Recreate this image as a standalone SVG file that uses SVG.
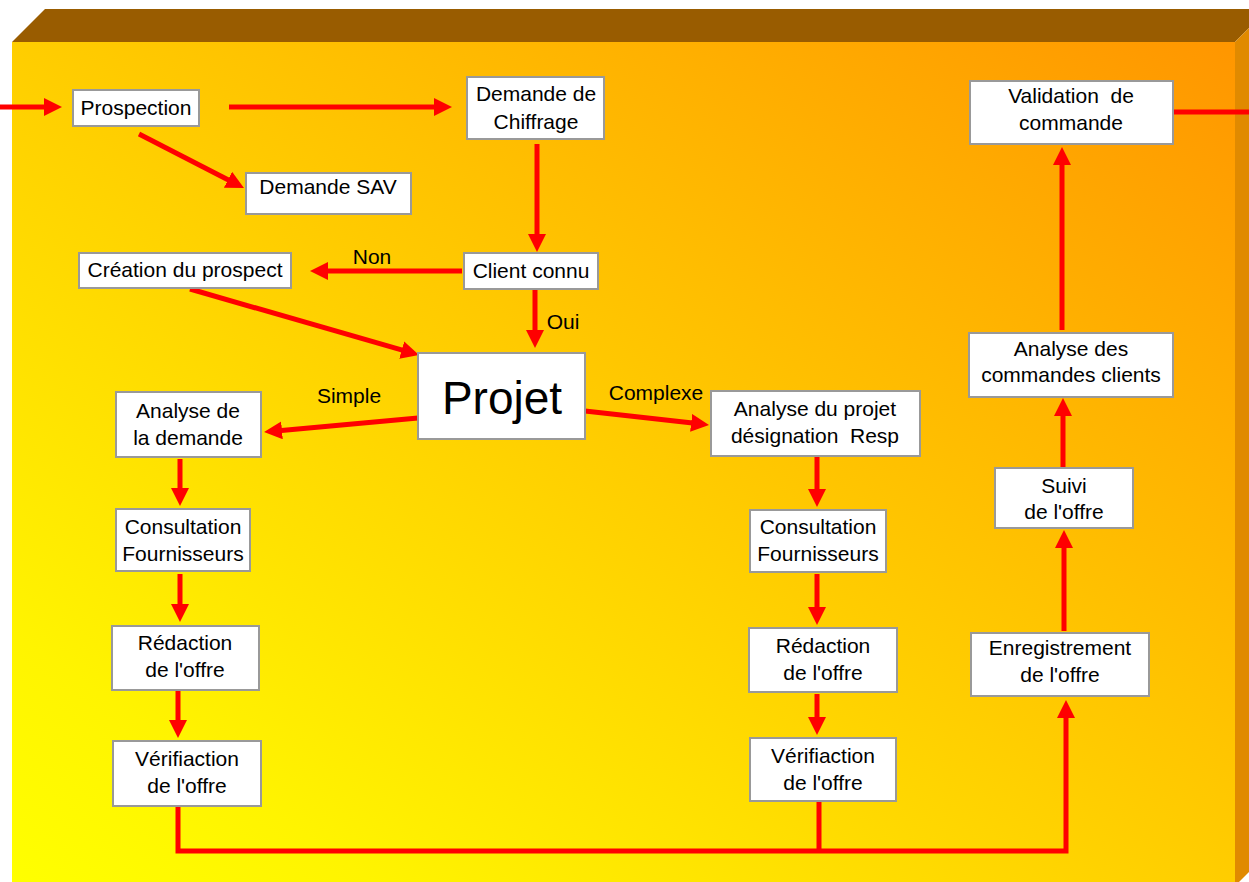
<svg xmlns="http://www.w3.org/2000/svg" width="1249" height="882" viewBox="0 0 1249 882">
<defs>
<linearGradient id="bg" x1="0" y1="1" x2="1" y2="0">
<stop offset="0" stop-color="#FFFF00"/>
<stop offset="0.15" stop-color="#FFF400"/>
<stop offset="1" stop-color="#FF9600"/>
</linearGradient>
<marker id="ah" markerUnits="userSpaceOnUse" markerWidth="18" markerHeight="18" viewBox="0 0 18 18" refX="6" refY="9" orient="auto">
<path d="M0,0 L18,9 L0,18 z" fill="#FF0000"/>
</marker>
</defs>
<style>
.box{fill:#FFFFFF;stroke:#999999;stroke-width:2}
.t{font-family:"Liberation Sans",Arial,sans-serif;font-size:21px;fill:#000;text-anchor:middle}
.lbl{font-family:"Liberation Sans",Arial,sans-serif;font-size:21px;fill:#000;text-anchor:middle}
.c{fill:none;stroke:#FF0000;stroke-width:5}
.a{marker-end:url(#ah)}
</style>
<g id="background">
<rect x="0" y="0" width="1249" height="882" fill="#FFFFFF"/>
<polygon points="12,42 45,9 1268,9 1235,42" fill="#995C00"/>
<polygon points="1235,42 1268,9 1268,853 1235,886" fill="#E08A00"/>
<rect x="12" y="42" width="1223" height="844" fill="url(#bg)"/>
</g>
<g id="connectors">
<line class="c a" x1="0" y1="107" x2="50" y2="107"/>
<line class="c a" x1="229" y1="107" x2="440" y2="107"/>
<line class="c a" x1="139" y1="134" x2="233.3" y2="182.5"/>
<line class="c a" x1="537" y1="144" x2="537" y2="240"/>
<line class="c a" x1="462" y1="271" x2="322" y2="271"/>
<line class="c a" x1="535" y1="289" x2="535" y2="336"/>
<line class="c a" x1="190" y1="289" x2="407.5" y2="351.7"/>
<line class="c a" x1="418" y1="418" x2="276" y2="430.9"/>
<line class="c a" x1="585" y1="411" x2="697.1" y2="423.6"/>
<line class="c a" x1="180" y1="459" x2="180" y2="494"/>
<line class="c a" x1="180" y1="574" x2="180" y2="610"/>
<line class="c a" x1="178" y1="691" x2="178" y2="726"/>
<line class="c a" x1="817" y1="457" x2="817" y2="495"/>
<line class="c a" x1="817" y1="574" x2="817" y2="613"/>
<line class="c a" x1="817" y1="694" x2="817" y2="723"/>
<polyline class="c a" points="178,806 178,851 1066,851 1066,712"/>
<line class="c" x1="819" y1="801" x2="819" y2="851"/>
<line class="c a" x1="1064" y1="631" x2="1064" y2="542"/>
<line class="c a" x1="1063" y1="467" x2="1063" y2="410"/>
<line class="c a" x1="1062" y1="330" x2="1062" y2="159"/>
<line class="c" x1="1173" y1="112" x2="1249" y2="112"/>
<text class="lbl" x="372" y="264">Non</text>
<text class="lbl" x="563" y="329">Oui</text>
<text class="lbl" x="349" y="403">Simple</text>
<text class="lbl" x="656" y="400">Complexe</text>
</g>
<g id="prospection"><rect class="box" x="73" y="90" width="126" height="36"/><text class="t" x="136" y="115">Prospection</text></g>
<g id="demande-chiffrage"><rect class="box" x="467" y="77" width="137" height="62"/><text class="t" x="536" y="101">Demande de</text><text class="t" x="536" y="129">Chiffrage</text></g>
<g id="demande-sav"><rect class="box" x="246" y="173" width="165" height="41"/><text class="t" x="328" y="194">Demande SAV</text></g>
<g id="client-connu"><rect class="box" x="464" y="253" width="134" height="36"/><text class="t" x="531" y="278">Client connu</text></g>
<g id="creation-prospect"><rect class="box" x="79" y="253" width="212" height="35"/><text class="t" x="185" y="277">Création du prospect</text></g>
<g id="projet"><rect class="box" x="418" y="353" width="167" height="86"/><text class="t" x="502" y="414" style="font-size:46px">Projet</text></g>
<g id="analyse-demande"><rect class="box" x="116" y="392" width="145" height="65"/><text class="t" x="188" y="418">Analyse de</text><text class="t" x="188" y="445">la demande</text></g>
<g id="analyse-projet"><rect class="box" x="711" y="391" width="209" height="65"/><text class="t" x="815" y="416">Analyse du projet</text><text class="t" x="815" y="443" xml:space="preserve">désignation  Resp</text></g>
<g id="consultation-left"><rect class="box" x="116" y="509" width="134" height="62"/><text class="t" x="183" y="534">Consultation</text><text class="t" x="183" y="561">Fournisseurs</text></g>
<g id="redaction-left"><rect class="box" x="112" y="626" width="147" height="64"/><text class="t" x="185" y="650">Rédaction</text><text class="t" x="185" y="677">de l'offre</text></g>
<g id="verification-left"><rect class="box" x="113" y="741" width="148" height="65"/><text class="t" x="187" y="766">Vérifiaction</text><text class="t" x="187" y="793">de l'offre</text></g>
<g id="consultation-right"><rect class="box" x="750" y="510" width="136" height="62"/><text class="t" x="818" y="534">Consultation</text><text class="t" x="818" y="561">Fournisseurs</text></g>
<g id="redaction-right"><rect class="box" x="749" y="628" width="148" height="64"/><text class="t" x="823" y="653">Rédaction</text><text class="t" x="823" y="680">de l'offre</text></g>
<g id="verification-right"><rect class="box" x="750" y="738" width="146" height="63"/><text class="t" x="823" y="763">Vérifiaction</text><text class="t" x="823" y="790">de l'offre</text></g>
<g id="validation-commande"><rect class="box" x="970" y="81" width="203" height="63"/><text class="t" x="1071" y="103" xml:space="preserve">Validation  de</text><text class="t" x="1071" y="130">commande</text></g>
<g id="analyse-commandes"><rect class="box" x="969" y="333" width="204" height="64"/><text class="t" x="1071" y="356">Analyse des</text><text class="t" x="1071" y="382">commandes clients</text></g>
<g id="suivi-offre"><rect class="box" x="995" y="468" width="138" height="60"/><text class="t" x="1064" y="493">Suivi</text><text class="t" x="1064" y="519">de l'offre</text></g>
<g id="enregistrement-offre"><rect class="box" x="971" y="633" width="178" height="63"/><text class="t" x="1060" y="655">Enregistrement</text><text class="t" x="1060" y="682">de l'offre</text></g>
</svg>
